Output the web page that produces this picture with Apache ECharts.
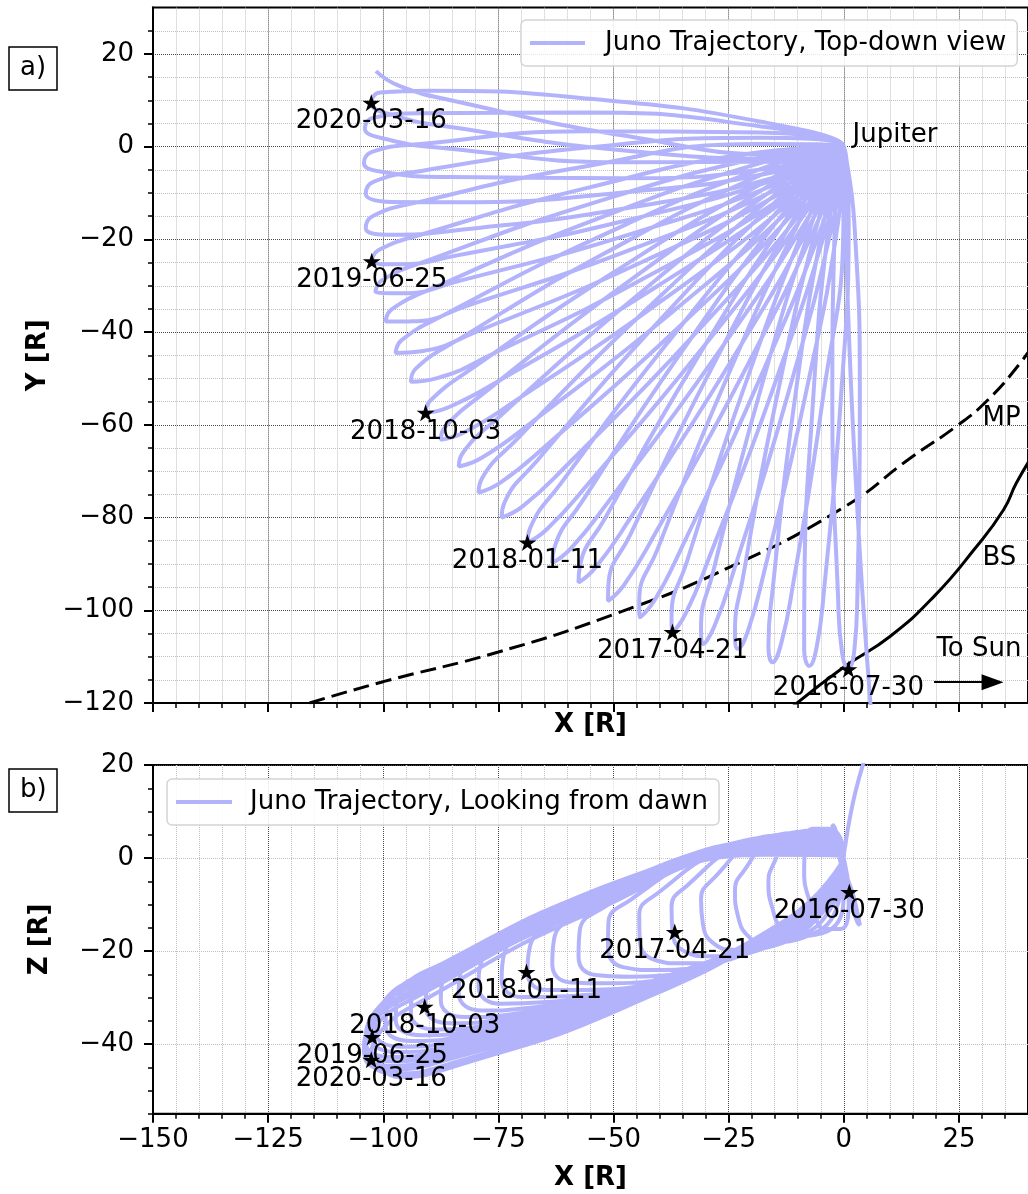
<!DOCTYPE html>
<html>
<head>
<meta charset="utf-8">
<title>Juno trajectory</title>
<script src="https://cdn.jsdelivr.net/npm/echarts@6.0.0/dist/echarts.min.js"></script>
<style>
html, body { margin: 0; padding: 0; background: #ffffff; }
#chart { width: 1028px; height: 1194px; }
</style>
</head>
<body>
<div id="chart"></div>
<script>
// ---------------- data (units: R) ----------------
// trajectory points are [X, Y, Z]; panel a plots X-Y, panel b plots X-Z
const jupiter = [0, 0, 0];
const approachPath = [[6.6,-130,27.5],[4.3,-100,20.5],[2.6,-72,14.5],[1.3,-45,8.5],[0.4,-18,3.2],[0,0,0]];
const orbitLoops = [
  [[2.26,-15.99,-8.69],[3.49,-55.63,-14.43],[2.97,-95.69,-13.85],[2.31,-108.43,-11.89],[1.0,-112.7,-7.3],[-0.38,-109.09,-2.20],[-1.26,-96.72,1.39],[-2.49,-57.07,7.13],[-1.97,-17.02,6.55]],
  [[1.06,-15.93,-8.93],[-0.70,-55.34,-15.27],[-4.24,-95.14,-15.29],[-5.86,-107.78,-13.53],[-7.5,-112.0,-9.0],[-8.61,-108.38,-3.84],[-8.56,-96.07,-0.07],[-6.80,-56.66,6.27],[-3.26,-16.86,6.29]],
  [[-0.07,-15.85,-9.18],[-4.64,-54.99,-16.15],[-11.03,-94.49,-16.82],[-13.56,-107.03,-15.26],[-15.5,-111.2,-10.8],[-16.36,-107.58,-5.58],[-15.43,-95.35,-1.62],[-10.87,-56.21,5.35],[-4.47,-16.71,6.02]],
  [[-1.12,-15.47,-9.40],[-8.32,-53.60,-16.93],[-17.38,-92.06,-18.17],[-20.76,-104.26,-16.80],[-23.0,-108.3,-12.4],[-23.63,-104.76,-7.14],[-21.88,-92.83,-3.00],[-14.68,-54.70,4.53],[-5.62,-16.24,5.77]],
  [[-2.17,-15.36,-9.66],[-12.05,-53.16,-17.81],[-23.81,-91.24,-19.70],[-28.06,-103.33,-18.52],[-30.6,-107.3,-14.2],[-31.00,-103.77,-8.88],[-28.43,-91.94,-4.55],[-18.56,-54.14,3.61],[-6.79,-16.06,5.50]],
  [[-3.08,-15.02,-9.89],[-15.26,-51.91,-18.64],[-29.39,-89.06,-21.13],[-34.40,-100.84,-20.16],[-37.2,-104.7,-15.9],[-37.40,-101.23,-10.53],[-34.12,-89.69,-6.01],[-21.94,-52.79,2.74],[-7.81,-15.64,5.23]],
  [[-3.87,-14.69,-10.13],[-18.44,-50.51,-19.52],[-35.20,-86.47,-22.65],[-41.08,-97.84,-21.88],[-44.3,-101.5,-17.7],[-44.42,-98.06,-12.28],[-40.43,-86.81,-7.57],[-25.86,-50.99,1.82],[-9.10,-15.03,4.95]],
  [[-4.82,-14.26,-10.36],[-21.82,-48.87,-20.34],[-41.02,-83.56,-24.08],[-47.70,-94.51,-23.51],[-51.2,-98.0,-19.4],[-51.11,-94.63,-13.93],[-46.38,-83.74,-9.04],[-29.39,-49.13,0.94],[-10.18,-14.44,4.68]],
  [[-5.70,-13.76,-10.59],[-24.92,-47.00,-21.16],[-46.43,-80.24,-25.51],[-53.84,-90.71,-25.14],[-57.6,-94.0,-21.1],[-57.33,-90.71,-15.59],[-51.90,-80.24,-10.51],[-32.68,-47.01,0.06],[-11.17,-13.76,4.41]],
  [[-6.46,-13.23,-10.82],[-27.69,-45.00,-21.98],[-51.23,-76.73,-26.94],[-59.30,-86.71,-26.76],[-63.3,-89.8,-22.8],[-62.87,-86.61,-17.24],[-56.84,-76.58,-11.98],[-35.61,-44.80,-0.83],[-12.07,-13.07,4.14]],
  [[-7.19,-12.67,-11.04],[-30.30,-42.93,-22.79],[-55.78,-73.06,-28.37],[-64.47,-82.52,-28.39],[-68.7,-85.4,-24.5],[-68.12,-82.31,-18.90],[-61.51,-72.73,-13.46],[-38.40,-42.47,-1.71],[-12.92,-12.34,3.87]],
  [[-7.70,-12.24,-11.25],[-32.66,-40.75,-23.55],[-60.24,-68.82,-29.71],[-69.68,-77.54,-29.91],[-74.3,-80.0,-26.1],[-73.72,-76.86,-20.46],[-66.60,-67.76,-14.85],[-41.64,-39.25,-2.55],[-14.06,-11.19,3.61]],
  [[-8.41,-11.60,-11.44],[-35.12,-38.25,-24.27],[-64.49,-64.35,-30.96],[-74.48,-72.42,-31.35],[-79.3,-74.6,-27.6],[-78.57,-71.56,-21.92],[-70.89,-63.01,-16.16],[-44.19,-36.35,-3.33],[-14.81,-10.26,3.36]],
  [[-9.00,-10.92,-11.64],[-37.22,-35.65,-24.98],[-68.12,-59.72,-32.22],[-78.61,-67.10,-32.78],[-83.6,-69.0,-29.1],[-82.74,-66.07,-23.39],[-74.60,-58.09,-17.46],[-46.38,-33.35,-4.12],[-15.48,-9.30,3.12]],
  [[-9.55,-10.21,-11.83],[-39.13,-32.96,-25.69],[-71.43,-54.90,-33.47],[-82.36,-61.60,-34.21],[-87.5,-63.2,-30.6],[-86.51,-60.38,-24.85],[-77.95,-52.99,-18.77],[-48.37,-30.25,-4.91],[-16.07,-8.30,2.87]],
  [[-10.01,-9.51,-12.00],[-40.77,-30.27,-26.35],[-74.23,-50.11,-34.63],[-85.54,-56.10,-35.54],[-90.8,-57.4,-32.0],[-89.71,-54.69,-26.22],[-80.79,-47.89,-20.00],[-50.03,-27.14,-5.65],[-16.57,-7.30,2.63]],
  [[-10.28,-9.08,-12.18],[-42.07,-27.69,-27.01],[-76.75,-44.94,-35.80],[-88.49,-49.98,-36.87],[-94.0,-50.7,-33.4],[-92.93,-47.87,-27.59],[-83.72,-41.62,-21.22],[-51.93,-23.01,-6.39],[-17.25,-5.76,2.40]],
  [[-10.81,-8.36,-12.34],[-43.79,-24.87,-27.62],[-79.62,-39.83,-36.88],[-91.71,-44.12,-38.11],[-97.3,-44.5,-34.7],[-96.08,-41.77,-28.86],[-86.50,-36.14,-22.36],[-53.51,-19.63,-7.08],[-17.69,-4.67,2.18]],
  [[-11.18,-7.56,-12.50],[-44.96,-21.74,-28.23],[-81.54,-34.22,-37.96],[-93.86,-37.68,-39.34],[-99.5,-37.7,-36.0],[-98.18,-35.08,-30.14],[-88.32,-30.14,-23.50],[-54.54,-15.96,-7.77],[-17.96,-3.48,1.96]],
  [[-11.56,-6.81,-12.67],[-46.15,-18.81,-28.84],[-83.48,-28.95,-39.05],[-96.02,-31.63,-40.58],[-101.7,-31.3,-37.3],[-100.26,-28.79,-31.41],[-90.15,-24.49,-24.63],[-55.56,-12.50,-8.46],[-18.22,-2.35,1.75]],
  [[-11.73,-6.03,-12.81],[-46.62,-15.76,-29.40],[-84.22,-23.50,-40.04],[-96.83,-25.37,-41.72],[-102.5,-24.7,-38.5],[-101.00,-22.30,-32.59],[-90.77,-18.67,-25.69],[-55.89,-8.94,-9.11],[-18.28,-1.21,1.54]],
  [[-11.93,-5.76,-12.95],[-47.28,-13.29,-29.91],[-85.34,-18.20,-40.95],[-98.09,-19.01,-42.76],[-103.8,-17.6,-39.6],[-102.25,-14.96,-33.67],[-91.87,-11.85,-26.66],[-56.52,-4.31,-9.69],[-18.46,0.60,1.35]],
  [[-12.08,-4.87,-13.06],[-47.50,-9.85,-30.36],[-85.49,-12.01,-41.77],[-98.19,-11.91,-43.71],[-103.8,-10.1,-40.6],[-102.15,-7.59,-34.65],[-91.72,-5.23,-27.54],[-56.31,-0.25,-10.24],[-18.31,1.91,1.17]],
  [[-12.31,-4.09,-13.18],[-47.93,-6.81,-30.83],[-86.00,-6.56,-42.60],[-98.67,-5.66,-44.66],[-104.2,-3.5,-41.6],[-102.43,-1.10,-35.63],[-91.89,0.59,-28.42],[-56.28,3.31,-10.77],[-18.20,3.06,1.00]],
  [[-12.49,-3.20,-13.29],[-48.12,-3.35,-31.25],[-86.03,-0.37,-43.35],[-98.61,1.45,-45.51],[-104.0,4.0,-42.5],[-102.11,6.27,-36.51],[-91.51,7.20,-29.21],[-55.88,7.35,-11.25],[-17.97,4.37,0.85]],
  [[-12.41,-2.54,-13.39],[-47.61,-0.82,-31.65],[-84.97,4.18,-44.08],[-97.35,6.66,-46.36],[-102.6,9.5,-43.4],[-100.67,11.67,-37.40],[-90.19,12.04,-30.01],[-54.99,10.32,-11.75],[-17.63,5.32,0.68]]
];
const finalLeg = [[-12.48,-1.72,-13.49],[-47.42,2.34,-32.02],[-84.34,9.80,-44.75],[-96.52,13.12,-47.12],[-101.6,16.3,-44.2]];

const starDates = ['2016-07-30','2017-04-21','2018-01-11','2018-10-03','2019-06-25','2020-03-16'];
const starTopX  = [1.0, -37.2, -68.7, -90.8, -102.5, -102.6];
const starTopY  = [-112.7, -104.7, -85.4, -57.4, -24.7, 9.5];
const starSideX = [1.2, -36.7, -68.9, -91.0, -102.4, -102.6];
const starSideZ = [-7.3, -15.9, -24.5, -32.0, -38.5, -43.4];

const mpX = [-116, -100, -75, -50, -25, 0, 14.4, 24.6, 31.1, 38.2, 43];
const mpY = [-120, -115.4, -109, -100.9, -90.8, -77.8, -67.2, -60.2, -54.8, -46.8, -40];
const bsX = [-12, 0.1, 10.1, 19.6, 28.3, 34.7, 37.5, 42];
const bsY = [-121.5, -112.2, -105.6, -97, -86.9, -78.3, -72.5, -65];

const noteNames = ['Jupiter', 'MP', 'BS', 'To Sun'];
const noteX = [1.8, 30.0, 30.0, 20.0];
const noteY = [2.4, -58.5, -88.7, -108.3];
const arrowFrom = [19.6, -115.5];
const arrowTo = [32.3, -115.5];

const xTicks = [-150, -125, -100, -75, -50, -25, 0, 25];
const yTicksTop = [-120, -100, -80, -60, -40, -20, 0, 20];
const zTicks = [-40, -20, 0, 20];

// ---------------- build ----------------
const trajectory = approachPath.slice();
orbitLoops.forEach(function (loop) {
  loop.forEach(function (p) { trajectory.push(p); });
  trajectory.push(jupiter);
});
finalLeg.forEach(function (p) { trajectory.push(p); });

const FONT = 'DejaVu Sans';
const FS = 26;
const TRAJ = '#b3b3fb';
const MAJOR = '#4a4a4a';
const MINOR = '#c0c0c0';
const STAR = 'path://M50,0 L61.23,34.55 L97.55,34.55 L68.17,55.9 L79.39,90.45 L50,69.1 L20.61,90.45 L31.83,55.9 L2.45,34.55 L38.77,34.55 Z';
function fmt(v) { return String(v).replace('-', '\u2212'); }

const labelText = { fontSize: FS, color: '#000000', fontFamily: FONT, opacity: 1 };
const nameText = { fontSize: FS, fontWeight: 'bold', color: '#000000', fontFamily: FONT };
const axisLineStyle = { show: true, onZero: false, lineStyle: { color: '#000', width: 2 } };

function xAxisDef(gridIndex, showLabels, nameGap) {
  return {
    gridIndex: gridIndex, type: 'value', min: -150, max: 40, interval: 25,
    axisLine: axisLineStyle,
    axisTick: { show: true, length: 9, lineStyle: { color: '#000', width: 2 }, customValues: xTicks },
    minorTick: { show: true, splitNumber: 5, length: 5, lineStyle: { color: '#000', width: 1.5 } },
    axisLabel: showLabels ? Object.assign({ show: true, customValues: xTicks, formatter: fmt, margin: 13 }, labelText) : { show: false },
    splitLine: { show: true, lineStyle: { color: MAJOR, width: 1, type: 'dotted' } },
    minorSplitLine: { show: true, lineStyle: { color: MINOR, width: 1, type: 'dotted' } },
    name: 'X [R]', nameLocation: 'middle', nameGap: nameGap, nameTextStyle: nameText
  };
}

const legendBase = {
  icon: 'rect', itemHeight: 4, padding: [10, 11, 10, 9],
  backgroundColor: 'rgba(255,255,255,0.85)', borderColor: '#d4d4d4', borderWidth: 1.5, borderRadius: 5,
  selectedMode: false
};

const option = {
  animation: false,
  backgroundColor: '#ffffff',
  textStyle: { fontFamily: FONT },
  title: [
    { text: 'a)', left: 9, top: 47, padding: [9, 11, 9, 11], borderWidth: 1.5, borderColor: '#000',
      textStyle: { fontSize: FS, fontWeight: 'normal', color: '#000', fontFamily: FONT, lineHeight: 25 } },
    { text: 'b)', left: 9, top: 769, padding: [9, 11, 9, 11], borderWidth: 1.5, borderColor: '#000',
      textStyle: { fontSize: FS, fontWeight: 'normal', color: '#000', fontFamily: FONT, lineHeight: 25 } }
  ],
  legend: [
    Object.assign({ data: ['Juno Trajectory, Top-down view'], left: 521, top: 20, itemWidth: 55,
      textStyle: { fontSize: FS, color: '#000', fontFamily: FONT, lineHeight: 25, padding: [0, 0, 0, 15] } }, legendBase),
    Object.assign({ data: ['Juno Trajectory, Looking from dawn'], left: 167, top: 779, itemWidth: 56,
      textStyle: { fontSize: FS, color: '#000', fontFamily: FONT, lineHeight: 25, padding: [0, 0, 0, 13] } }, legendBase)
  ],
  grid: [
    { left: 153, top: 7.6, width: 878, height: 695.4, show: true, borderColor: '#000', borderWidth: 2, backgroundColor: 'transparent' },
    { left: 153, top: 765, width: 878, height: 348.8, show: true, borderColor: '#000', borderWidth: 2, backgroundColor: 'transparent' }
  ],
  xAxis: [ xAxisDef(0, false, 9), xAxisDef(1, true, 51) ],
  yAxis: [
    { gridIndex: 0, type: 'value', min: -120, max: 30, interval: 20,
      axisLine: axisLineStyle,
      axisTick: { show: true, length: 9, lineStyle: { color: '#000', width: 2 }, customValues: yTicksTop },
      minorTick: { show: true, splitNumber: 4, length: 5, lineStyle: { color: '#000', width: 1.5 } },
      axisLabel: Object.assign({ show: true, customValues: yTicksTop, formatter: fmt, margin: 19 }, labelText),
      splitLine: { show: true, lineStyle: { color: MAJOR, width: 1, type: 'dotted' } },
      minorSplitLine: { show: true, lineStyle: { color: MINOR, width: 1, type: 'dotted' } },
      name: 'Y [R]', nameLocation: 'middle', nameRotate: 90, nameGap: 100, nameTextStyle: nameText },
    { gridIndex: 1, type: 'value', min: -55, max: 20, interval: 5, position: 'left',
      axisLine: axisLineStyle,
      axisTick: { show: true, length: 9, lineStyle: { color: '#000', width: 2 }, customValues: zTicks },
      axisLabel: Object.assign({ show: true, customValues: zTicks, formatter: fmt, margin: 19 }, labelText),
      splitLine: { show: true, lineStyle: { color: [MINOR, MINOR, MINOR, MAJOR], width: 1, type: 'dotted' } },
      name: 'Z [R]', nameLocation: 'middle', nameRotate: 90, nameGap: 100, nameTextStyle: nameText },
    { gridIndex: 1, type: 'value', min: -55, max: 20, interval: 5, position: 'left', offset: 0,
      axisLine: { show: false, onZero: false },
      axisTick: { show: true, length: 5, lineStyle: { color: '#000', width: 1.5 } },
      axisLabel: { show: false }, splitLine: { show: false } }
  ],
  series: [
    { type: 'line', name: 'MP', xAxisIndex: 0, yAxisIndex: 0, silent: true, z: 2,
      data: mpX.map(function (x, i) { return [x, mpY[i]]; }),
      smooth: true, symbol: 'none', lineStyle: { color: '#000', width: 3, type: [16, 7] } },
    { type: 'line', name: 'BS', xAxisIndex: 0, yAxisIndex: 0, silent: true, z: 2,
      data: bsX.map(function (x, i) { return [x, bsY[i]]; }),
      smooth: true, symbol: 'none', lineStyle: { color: '#000', width: 3 } },
    { type: 'line', name: 'Juno Trajectory, Top-down view', xAxisIndex: 0, yAxisIndex: 0, z: 3,
      data: trajectory.map(function (p) { return [p[0], p[1]]; }),
      smooth: 0.5, symbol: 'none', color: TRAJ, itemStyle: { color: TRAJ }, lineStyle: { color: TRAJ, width: 4 } },
    { type: 'scatter', name: 'stars a', xAxisIndex: 0, yAxisIndex: 0, z: 5, silent: true,
      data: starDates.map(function (d, i) { return { name: d, value: [starTopX[i], starTopY[i]] }; }),
      symbol: STAR, symbolSize: [18, 17], itemStyle: { color: '#000', opacity: 1 },
      label: Object.assign({ show: true, position: 'inside', offset: [0, 19], formatter: '{b}' }, labelText) },
    { type: 'scatter', name: 'notes', xAxisIndex: 0, yAxisIndex: 0, z: 5, silent: true,
      data: noteNames.map(function (n, i) { return { name: n, value: [noteX[i], noteY[i]] }; }),
      symbol: 'circle', symbolSize: 1, itemStyle: { color: 'rgba(0,0,0,0)', opacity: 1 },
      label: Object.assign({ show: true, position: 'right', distance: 0, formatter: '{b}' }, labelText),
      markLine: { silent: true, symbol: ['none', 'triangle'], symbolSize: [16, 22],
        lineStyle: { color: '#000', width: 2, type: 'solid', opacity: 1 }, label: { show: false },
        data: [[{ coord: arrowFrom }, { coord: arrowTo }]] } },
    { type: 'line', name: 'Juno Trajectory, Looking from dawn', xAxisIndex: 1, yAxisIndex: 1, z: 3,
      data: trajectory.map(function (p) { return [p[0], p[2]]; }),
      smooth: 0.5, symbol: 'none', color: TRAJ, itemStyle: { color: TRAJ }, lineStyle: { color: TRAJ, width: 4 } },
    { type: 'scatter', name: 'stars b', xAxisIndex: 1, yAxisIndex: 1, z: 5, silent: true,
      data: starDates.map(function (d, i) { return { name: d, value: [starSideX[i], starSideZ[i]] }; }),
      symbol: STAR, symbolSize: [18, 17], itemStyle: { color: '#000', opacity: 1 },
      label: Object.assign({ show: true, position: 'inside', offset: [0, 19], formatter: '{b}' }, labelText) }
  ]
};

const chart = echarts.init(document.getElementById('chart'), null, { renderer: 'canvas' });
chart.setOption(option);
</script>
</body>
</html>
